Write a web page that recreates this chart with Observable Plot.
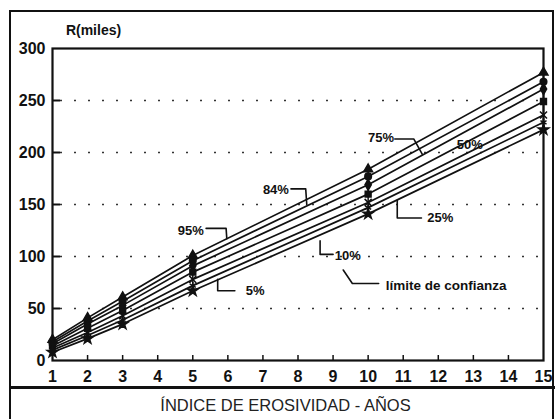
<!DOCTYPE html>
<html><head><meta charset="utf-8">
<script src="https://cdn.jsdelivr.net/npm/d3@7"></script>
<script src="https://cdn.jsdelivr.net/npm/@observablehq/plot@0.6"></script>
<style>
body{margin:0;background:#fff;}
#wrap{position:relative;width:555px;height:419px;overflow:hidden;font-family:"Liberation Sans",Arial,sans-serif;color:#111;}
#chart svg{display:block;}
.box{position:absolute;left:9px;top:10px;width:545px;height:440px;border:2px solid #111;box-sizing:border-box;pointer-events:none;}
.sep{position:absolute;left:9px;top:386px;width:546px;height:3px;background:#111;}
.title{position:absolute;left:8px;width:555px;top:394px;text-align:center;font-size:16.5px;line-height:22px;color:#222;}
</style></head>
<body>
<div id="wrap">
  <div id="chart"></div>
  <div class="box"></div>
  <div class="sep"></div>
  <div class="title">ÍNDICE DE EROSIVIDAD - AÑOS</div>
</div>
<script>
// ---- data ----
const years = [1, 2, 3, 5, 10, 15];
const seriesNames = ["95%", "84%", "75%", "50%", "25%", "10%", "5%"];
const r95 = [20, 41, 61, 101, 184, 277];
const r84 = [18, 38, 57, 96, 177, 268];
const r75 = [16, 35, 53, 91, 169, 261];
const r50 = [14, 31, 48, 85, 160, 249];
const r25 = [12, 27, 43, 78, 152, 236];
const r10 = [10, 24, 39, 72, 147, 229];
const r5  = [8, 21, 35, 67, 141, 222];
const xTicks = [1,2,3,4,5,6,7,8,9,10,11,12,13,14,15];
const yTicks = [0, 50, 100, 150, 200, 250, 300];

// annotation labels (data coordinates)
const pctText = ["95%", "84%", "75%", "50%", "25%", "10%", "5%"];
const pctX = [4.94, 7.37, 10.37, 12.9, 12.06, 9.42, 6.78];
const pctY = [125, 164, 214, 207, 137, 101, 67];
const noteText = ["límite de confianza"];
const noteX = [10.5];
const noteY = [72];
// leader lines (data coordinates)
const leaderId = [0,0,0, 1,1,1, 2,2,2, 4,4,4, 5,5,5, 6,6,6, 7,7,7];
const leaderX = [5.38,5.95,5.97, 7.8,8.22,8.25, 10.76,11.3,11.55, 10.83,10.83,11.52, 8.63,8.63,9.0, 5.71,5.71,6.2, 9.29,9.55,10.3];
const leaderY = [127,127,117, 165,165,150, 213,213,198, 154,137,137, 115,102,102, 78,67,67, 87,74,74];

const allSeries = [r95, r84, r75, r50, r25, r10, r5];
const rows = [];
seriesNames.forEach((s, i) => years.forEach((yr, j) => rows.push({series: s, year: yr, value: allSeries[i][j]})));
const ranges = years.map((yr, j) => ({year: yr, lo: r5[j], hi: r95[j]}));
const pctLabels = pctText.map((t, i) => ({t, x: pctX[i], y: pctY[i]}));
const notes = noteText.map((t, i) => ({t, x: noteX[i], y: noteY[i]}));
const leaders = leaderX.map((x, i) => ({id: leaderId[i], x, y: leaderY[i]}));

const chart = Plot.plot({
  width: 555, height: 387,
  marginLeft: 52, marginRight: 12, marginTop: 48, marginBottom: 27,
  x: {domain: [1, 15]},
  y: {domain: [0, 300]},
  symbol: {domain: seriesNames, range: ["triangle", "circle", "diamond", "square", "times", "asterisk", "star"]},
  style: {fontFamily: "'Liberation Sans', Arial, sans-serif", color: "#111", background: "transparent"},
  marks: [
    Plot.gridY(yTicks.slice(1, -1), {stroke: "#333", strokeOpacity: 1, strokeWidth: 1.6, strokeDasharray: "2,12", strokeDashoffset: -8}),
    Plot.frame({strokeWidth: 2.2}),
    Plot.axisY(yTicks, {tickSize: 0, tickPadding: 7, fontSize: 16, fontWeight: "bold", label: null, style: "letter-spacing:0.6px"}),
    Plot.axisY(yTicks.slice(1, -1), {tickSize: -8, text: null, label: null, strokeWidth: 2}),
    Plot.axisX(xTicks, {tickSize: 0, tickPadding: 10, fontSize: 16, fontWeight: "bold", label: null}),
    Plot.axisX(xTicks.slice(1, -1), {tickSize: -5, text: null, label: null, strokeWidth: 1.5}),
    Plot.ruleX(ranges, {x: "year", y1: "lo", y2: "hi", strokeWidth: 1.5}),
    Plot.line(rows, {x: "year", y: "value", z: "series", stroke: "#111", strokeWidth: 1.7}),
    Plot.dot(rows, {x: "year", y: "value", symbol: "series", fill: "#111", stroke: "#111", r: 3.3}),
    Plot.line(leaders, {x: "x", y: "y", z: "id", stroke: "#111", strokeWidth: 1.6}),
    Plot.text(pctLabels, {x: "x", y: "y", text: "t", textAnchor: "middle", fontSize: 13, fontWeight: "bold", fill: "#111", style: "letter-spacing:0.4px"}),
    Plot.text(notes, {x: "x", y: "y", text: "t", textAnchor: "start", fontSize: 13.5, fontWeight: "bold", fill: "#111", style: "letter-spacing:0.5px"}),
    Plot.text(["R(miles)"], {frameAnchor: "top-left", dx: 41, dy: -23, text: d => d, textAnchor: "middle", fontSize: 14, fontWeight: "bold", fill: "#111"})
  ]
});
document.getElementById("chart").append(chart);
</script>
</body></html>
